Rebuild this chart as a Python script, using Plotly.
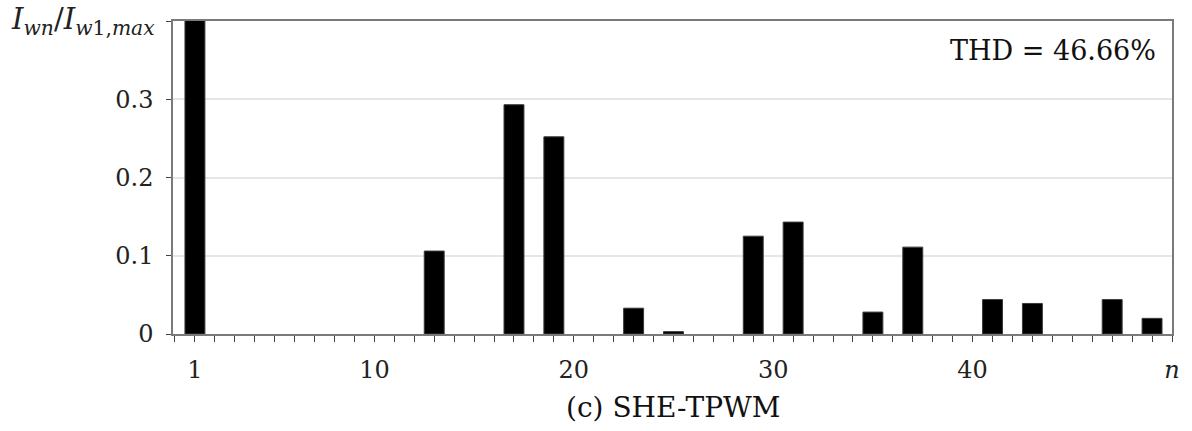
import plotly.graph_objects as go

# Harmonic order n and normalised amplitude I_wn / I_w1,max
harmonics = [1, 13, 17, 19, 23, 25, 29, 31, 35, 37, 41, 43, 47, 49]
amplitudes = [1.0, 0.106, 0.293, 0.252, 0.033, 0.003, 0.125, 0.143, 0.028, 0.111, 0.044, 0.039, 0.044, 0.020]

x_tick_vals = [1, 10, 20, 30, 40, 50]
x_tick_text = ["1", "10", "20", "30", "40", "<i>n</i>"]
y_tick_vals = [0, 0.1, 0.2, 0.3, 0.4]
y_tick_text = ["0", "0.1", "0.2", "0.3", ""]
y_title = "<i>I</i><sub><i>wn</i></sub>/<i>I</i><sub><i>w</i>1,<i>max</i></sub>"
thd_text = "THD = 46.66%"
caption = "(c) SHE-TPWM"

FONT = "DejaVu Serif"
AXIS_GREY = "#7a7a7a"

fig = go.Figure()
fig.add_trace(go.Bar(
    x=harmonics, y=amplitudes, width=1.0,
    marker=dict(color="black", line=dict(color="#3a3a3a", width=1)),
    showlegend=False,
))

fig.update_layout(
    width=1192, height=431,
    margin=dict(l=173, r=20, t=21, b=97),
    paper_bgcolor="white", plot_bgcolor="white",
    font=dict(family=FONT, size=24, color="#222222"),
    xaxis=dict(
        range=[-0.1, 50], showgrid=False, zeroline=False, automargin=False,
        showline=True, linecolor=AXIS_GREY, linewidth=1.5, mirror=True,
        tickmode="array", tickvals=x_tick_vals, ticktext=x_tick_text,
        ticks="outside", ticklen=6, tickwidth=1, tickcolor="#444444",
        minor=dict(tickmode="linear", tick0=1, dtick=1, ticks="outside",
                   ticklen=6, tickwidth=1, tickcolor="#444444", showgrid=False),
        ticklabelstandoff=7,
        tickfont=dict(family=FONT, size=24, color="#222222"),
    ),
    yaxis=dict(
        range=[0, 0.4], showgrid=True, gridcolor="#e6e6e6", gridwidth=1.5,
        zeroline=False, automargin=False,
        showline=True, linecolor=AXIS_GREY, linewidth=1.5, mirror=True,
        tickmode="array", tickvals=y_tick_vals, ticktext=y_tick_text,
        ticks="outside", ticklen=5, tickwidth=1, tickcolor="#444444",
        ticklabelstandoff=8,
        tickfont=dict(family=FONT, size=24, color="#222222"),
    ),
    annotations=[
        dict(text=y_title, xref="paper", yref="paper", x=-0.016, y=1.0,
             xanchor="right", yanchor="middle", showarrow=False,
             font=dict(family=FONT, size=29, color="#222222")),
        dict(text=thd_text, xref="paper", yref="paper", x=0.986, y=0.907,
             xanchor="right", yanchor="middle", showarrow=False,
             font=dict(family=FONT, size=27, color="#111111")),
        dict(text=caption, xref="paper", yref="paper", x=0.5, y=-0.236,
             xanchor="center", yanchor="middle", showarrow=False,
             font=dict(family=FONT, size=28, color="#111111")),
    ],
)

fig.write_html("out.html")
